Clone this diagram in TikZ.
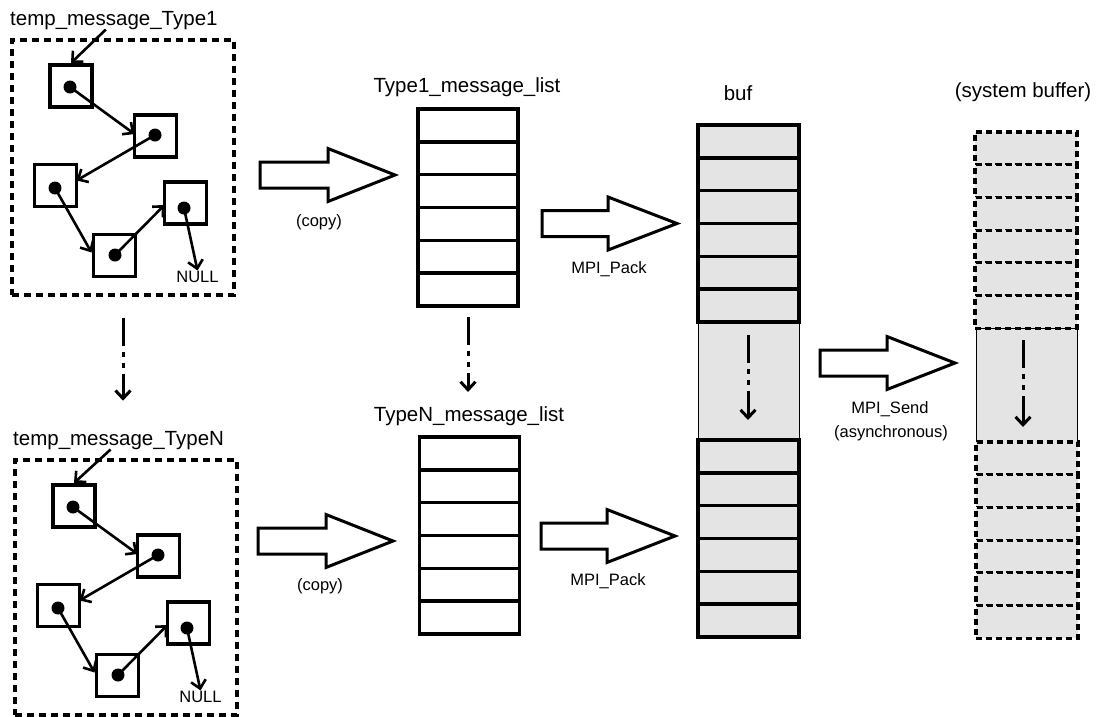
\documentclass[tikz,border=0pt]{standalone}
\usepackage{fontspec}
\setmainfont{Liberation Sans}
\usetikzlibrary{arrows.meta}

\definecolor{bufgray}{HTML}{E4E4E4}

\tikzset{
  big/.style={font=\fontsize{20.5}{24}\selectfont, inner sep=0pt},
  small/.style={font=\fontsize{16.5}{20}\selectfont, inner sep=0pt},
  heapsq/.style={draw, line width=3.2pt, minimum size=42pt, inner sep=0pt, outer sep=0pt},
  ptr/.style={circle, fill=black, minimum size=13pt, inner sep=0pt},
  link/.style={line width=2.6pt, -{Straight Barb[length=8pt,width=15pt]}},
  heapframe/.style={draw, line width=3.2pt, dash pattern=on 7pt off 5pt, inner sep=0pt},
  cell/.style={draw, line width=3.4pt, minimum width=100pt, minimum height=32.8pt, inner sep=0pt, outer sep=0pt},
  bufcell/.style={cell, fill=bufgray},
  syscell/.style={cell, fill=bufgray, line width=3.2pt, dash pattern=on 6pt off 4pt},
  gapzone/.style={draw, line width=1pt, fill=bufgray, inner sep=0pt, outer sep=0pt},
  flow/.style={line width=3pt, dash pattern=on 28pt off 6pt on 5pt off 6pt on 5pt off 6pt on 80pt,
               -{Straight Barb[length=8pt,width=15pt]}},
  fat/.style={draw, line width=3pt, fill=white, line join=miter},
}

% linked list of heap records inside a dashed frame
\newcommand\heapgroup[3]{%
  \begin{scope}[shift={#3}]
    \node[heapframe, minimum width=222pt, minimum height=255pt] (#1-frame) at (123,167.5) {};
    \node[big, anchor=base west] (#1-lbl) at (10,25) {#2};
    \node[heapsq] (#1-s1) at (71,86) {};
    \node[heapsq] (#1-s2) at (155.5,136) {};
    \node[heapsq] (#1-s3) at (55.5,185.5) {};
    \node[heapsq] (#1-s4) at (114.5,255.5) {};
    \node[heapsq] (#1-s5) at (185.5,203) {};
    \node[small, anchor=base] (#1-null) at (197.5,282) {NULL};
    \draw[link] ([xshift=-8pt]#1-lbl.south) -- ([yshift=2pt]#1-s1.north);
    \node[ptr] (#1-d1) at (70,87) {};
    \node[ptr] (#1-d2) at (155,135) {};
    \node[ptr] (#1-d3) at (55,188) {};
    \node[ptr] (#1-d4) at (115,255) {};
    \node[ptr] (#1-d5) at (184,208) {};
    \draw[link] (#1-d1.center) -- ([yshift=2pt]#1-s2.west);
    \draw[link] (#1-d2.center) -- ([yshift=5pt]#1-s3.east);
    \draw[link] (#1-d3.center) -- ([shift={(-2pt,3pt)}]#1-s4.west);
    \draw[link] (#1-d4.center) -- ([yshift=-2pt]#1-s5.west);
    \draw[link] (#1-d5.center) -- (#1-null.north);
  \end{scope}}

% hollow block arrow: name, shaft start x, centre y, head base x, tip x
\newcommand\fatarrow[5]{%
  \draw[fat] (#2,#3-13) -- (#4,#3-13) -- (#4,#3-26.5) -- (#5,#3)
     -- (#4,#3+26.5) -- (#4,#3+13) -- (#2,#3+13) -- cycle;
  \coordinate (#1) at (#5,#3);}

\begin{document}
\begin{tikzpicture}[x=1pt, y=-1pt]
\useasboundingbox (0,0) rectangle (1096,716);

% heap-allocated temporary messages
\heapgroup{hA}{temp\_message\_Type1}{(0,0)}
\heapgroup{hN}{temp\_message\_TypeN}{(3,420)}
\draw[flow, shorten <=21pt, shorten >=30pt] (hA-frame.south) -- (hA-frame.south |- hN-lbl.north);

% message lists
\node[big, anchor=base] (tA-lbl) at (467,92) {Type1\_message\_list};
\foreach \i in {1,...,6}
  \node[cell] (tA-c\i) at (468,{109+16.4+(\i-1)*32.8}) {};
\node[big, anchor=base] (tN-lbl) at (469,421) {TypeN\_message\_list};
\foreach \i in {1,...,6}
  \node[cell] (tN-c\i) at (469.5,{437+16.4+(\i-1)*32.8}) {};
\draw[flow, shorten <=11pt, shorten >=14pt] (tA-c6.south) -- (tA-c6.south |- tN-lbl.north);

% copy arrows
\fatarrow{cpA}{260}{175}{328}{395}
\node[small, anchor=base] (cpA-lbl) at (319,226) {(copy)};
\fatarrow{cpN}{258}{541}{326}{393}
\node[small, anchor=base] (cpN-lbl) at (320,590) {(copy)};

% pack arrows
\fatarrow{pkA}{542}{223.5}{608}{677}
\node[small, anchor=base] (pkA-lbl) at (609,273) {MPI\_Pack};
\fatarrow{pkN}{541}{536}{607}{675}
\node[small, anchor=base] (pkN-lbl) at (608,585) {MPI\_Pack};

% packed buffer
\node[big, anchor=base] (buf-lbl) at (738,100) {buf};
\node[gapzone, minimum width=101pt, minimum height=118pt] (buf-gap) at (748.5,381) {};
\foreach \i in {1,...,6}
  \node[bufcell, minimum width=101pt] (bufA-c\i) at (748.5,{125+16.4+(\i-1)*32.8}) {};
\foreach \i in {1,...,6}
  \node[bufcell, minimum width=101pt] (bufN-c\i) at (748.5,{440+16.4+(\i-1)*32.8}) {};
\coordinate (buf-a) at (748,335);
\coordinate (buf-b) at (748,420);
\draw[flow] (buf-a) -- (buf-b);

% send arrow
\fatarrow{snd}{820}{363}{887}{955}
\node[small, anchor=base] (snd-lbl) at (890,413) {MPI\_Send};
\node[small, anchor=base] (snd-lbl2) at (891,437) {(asynchronous)};

% system buffer
\node[big, anchor=base] (sys-lbl) at (1023,97) {(system buffer)};
\node[gapzone, minimum width=101pt, minimum height=114pt] (sys-gap) at (1026.5,385) {};
\foreach \i in {1,...,6}
  \node[syscell, minimum width=102pt, minimum height=32.7pt] (sysA-c\i) at (1026,{132+16.35+(\i-1)*32.7}) {};
\foreach \i in {1,...,6}
  \node[syscell, minimum width=102pt, minimum height=32.7pt] (sysN-c\i) at (1027,{442+16.35+(\i-1)*32.7}) {};
\coordinate (sys-a) at (1023,340);
\coordinate (sys-b) at (1023,427);
\draw[flow] (sys-a) -- (sys-b);
\end{tikzpicture}
\end{document}
